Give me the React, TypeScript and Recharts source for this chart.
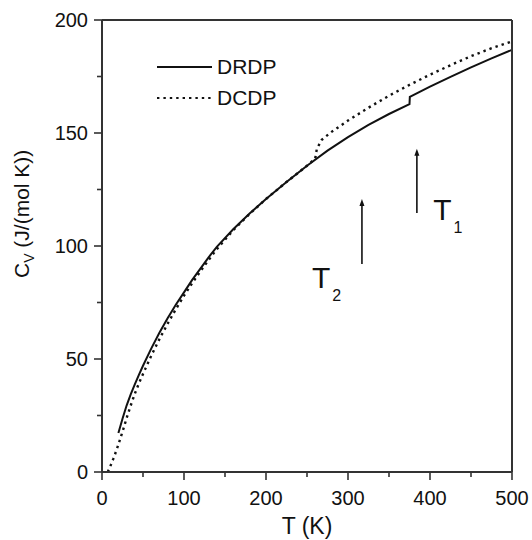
import React from 'react';
import { Legend, Line, LineChart, ReferenceDot, ReferenceLine, XAxis, YAxis } from 'recharts';

const SERIES_NAMES = ['DRDP', 'DCDP'];

// DRDP (solid) – heat capacity vs temperature
const T_DRDP = [20, 25, 30, 35, 40, 45, 50, 60, 70, 80, 90, 100, 110, 120, 130, 140, 160, 180, 200, 225, 250, 275, 300, 325, 350, 375, 375.4, 400, 425, 450, 475, 500];
const CV_DRDP = [17.3, 23.6, 29.4, 34.3, 38.8, 43, 47, 54.6, 61.6, 68, 74, 79.5, 85, 90, 95, 99.6, 107.4, 114.4, 120.8, 128.3, 135.5, 142.2, 148.2, 153.6, 158.4, 162.8, 166, 170.5, 174.8, 179, 183, 186.8];

// DCDP (dotted)
const T_DCDP = [7, 10, 14, 18, 22, 26, 30, 35, 40, 45, 50, 60, 70, 80, 90, 100, 110, 120, 130, 140, 160, 180, 200, 225, 250, 260, 262, 268, 280, 300, 325, 350, 375, 400, 425, 450, 475, 500];
const CV_DCDP = [0, 2.4, 6, 10, 14.4, 19, 23.8, 29.4, 34.6, 39.2, 43.4, 51.4, 58.8, 65.6, 72, 78, 83.6, 88.8, 93.8, 98.6, 107, 114.2, 120.8, 128.3, 135.5, 138.7, 143, 147, 150.5, 155.5, 161.2, 166.5, 171.3, 175.8, 180, 184, 187.5, 190.5];

const X_TICKS = [0, 50, 100, 150, 200, 250, 300, 350, 400, 450, 500];
const Y_TICKS = [0, 25, 50, 75, 100, 125, 150, 175, 200];

// transition arrows: [T, Cv bottom, Cv top] and their labels
const ARROW_T = [384, 317];
const ARROW_FROM = [114.6, 92];
const ARROW_TO = [143, 120.8];
const LABEL_T = [404, 256];
const LABEL_CV = [111.5, 81.4];
const LABEL_SUB = ['1', '2'];

const drdp = T_DRDP.map((t, i) => ({ t, cv: CV_DRDP[i] }));
const dcdp = T_DCDP.map((t, i) => ({ t, cv: CV_DCDP[i] }));

const FONT = '"Liberation Sans", Arial, Helvetica, sans-serif';
const INK = '#111';
const AXIS = '#333';

const BottomTick = ({ x, y, payload }: any) => {
  const major = payload.value % 100 === 0;
  return (
    <g>
      <line x1={x} y1={y} x2={x} y2={y + (major ? 8 : 5)} stroke={AXIS} strokeWidth={1.6} />
      {major && (
        <text x={x} y={y + 33} textAnchor="middle" fontSize={20} fill={INK} fontFamily={FONT}>
          {payload.value}
        </text>
      )}
    </g>
  );
};

const LeftTick = ({ x, y, payload }: any) => {
  const major = payload.value % 50 === 0;
  return (
    <g>
      <line x1={x} y1={y} x2={x - (major ? 8 : 5)} y2={y} stroke={AXIS} strokeWidth={1.6} />
      {major && (
        <text x={x - 14} y={y + 7} textAnchor="end" fontSize={20} fill={INK} fontFamily={FONT}>
          {payload.value}
        </text>
      )}
    </g>
  );
};

const TopTick = ({ x, y, payload }: any) => {
  const major = payload.value % 100 === 0;
  return <line x1={x} y1={y} x2={x} y2={y + (major ? 8 : 5)} stroke={AXIS} strokeWidth={1.6} />;
};

const RightTick = ({ x, y, payload }: any) => {
  const major = payload.value % 50 === 0;
  return <line x1={x} y1={y} x2={x - (major ? 8 : 6)} y2={y} stroke={AXIS} strokeWidth={1.6} />;
};

const Arrow = (props: any) => {
  const { x1, y1, x2, y2 } = props;
  return (
    <g>
      <line x1={x1} y1={y1} x2={x2} y2={y2 + 6} stroke={INK} strokeWidth={1.6} />
      <polygon points={`${x2 - 2.5},${y2 + 7} ${x2 + 2.5},${y2 + 7} ${x2},${y2}`} fill={INK} />
    </g>
  );
};

const LegendBox = ({ payload }: any) => {
  const items = [...(payload || [])].sort(
    (a: any, b: any) => SERIES_NAMES.indexOf(a.value) - SERIES_NAMES.indexOf(b.value)
  );
  return (
    <div style={{ fontFamily: FONT, fontSize: 21, color: INK }}>
      {items.map((e: any) => (
        <div key={e.value} style={{ display: 'flex', alignItems: 'center', height: 31 }}>
          <svg width={60} height={10}>
            <line
              x1={0}
              y1={5}
              x2={55}
              y2={5}
              stroke={INK}
              strokeWidth={2}
              strokeDasharray={e.payload?.strokeDasharray}
            />
          </svg>
          <span>{e.value}</span>
        </div>
      ))}
    </div>
  );
};

export default function App() {
  return (
    <div style={{ position: 'absolute', left: 0, top: 0, background: '#fff' }}>
      <LineChart width={532} height={540} margin={{ top: 0, right: 0, bottom: 0, left: 0 }}>
        <XAxis
          xAxisId="bottom"
          type="number"
          dataKey="t"
          domain={[0, 500]}
          ticks={X_TICKS}
          interval={0}
          height={68}
          tickSize={0}
          tickMargin={0}
          tick={<BottomTick />}
          axisLine={{ stroke: AXIS, strokeWidth: 2 }}
          label={{
            content: ({ viewBox }: any) => (
              <text
                x={viewBox.x + viewBox.width / 2}
                y={viewBox.y + 62}
                textAnchor="middle"
                fontSize={23}
                fill={INK}
                fontFamily={FONT}
              >
                T (K)
              </text>
            ),
          }}
        />
        <XAxis
          xAxisId="top"
          orientation="top"
          type="number"
          domain={[0, 500]}
          ticks={X_TICKS}
          interval={0}
          height={20}
          tickSize={0}
          tickMargin={0}
          tick={<TopTick />}
          axisLine={{ stroke: AXIS, strokeWidth: 2 }}
        />
        <YAxis
          yAxisId="left"
          type="number"
          domain={[0, 200]}
          ticks={Y_TICKS}
          interval={0}
          width={102}
          tickSize={0}
          tickMargin={0}
          tick={<LeftTick />}
          axisLine={{ stroke: AXIS, strokeWidth: 2 }}
          label={{
            content: ({ viewBox }: any) => {
              const cx = viewBox.x + 29;
              const cy = viewBox.y + 258;
              return (
                <text
                  x={cx}
                  y={cy}
                  transform={`rotate(-90 ${cx} ${cy})`}
                  textAnchor="start"
                  fontSize={21}
                  fill={INK}
                  fontFamily={FONT}
                >
                  C
                  <tspan fontSize={14} dy={5}>V</tspan>
                  <tspan dy={-5}> (J/(mol K))</tspan>
                </text>
              );
            },
          }}
        />
        <YAxis
          yAxisId="right"
          orientation="right"
          type="number"
          domain={[0, 200]}
          ticks={Y_TICKS}
          interval={0}
          width={20}
          tickSize={0}
          tickMargin={0}
          tick={<RightTick />}
          axisLine={{ stroke: AXIS, strokeWidth: 2 }}
        />
        <Legend
          layout="horizontal"
          verticalAlign="middle"
          align="center"
          wrapperStyle={{ top: 51, left: 157, width: 200, height: 62 }}
          content={<LegendBox />}
        />
        <Line
          xAxisId="bottom"
          yAxisId="left"
          name="DRDP"
          data={drdp}
          dataKey="cv"
          type="linear"
          stroke={INK}
          strokeWidth={2}
          dot={false}
          isAnimationActive={false}
        />
        <Line
          xAxisId="bottom"
          yAxisId="left"
          name="DCDP"
          data={dcdp}
          dataKey="cv"
          type="linear"
          stroke={INK}
          strokeWidth={2.4}
          strokeDasharray="2.4 4"
          dot={false}
          isAnimationActive={false}
        />
        {ARROW_T.map((t, i) => (
          <ReferenceLine
            key={`arrow-${i}`}
            xAxisId="bottom"
            yAxisId="left"
            segment={[
              { x: t, y: ARROW_FROM[i] },
              { x: t, y: ARROW_TO[i] },
            ]}
            shape={Arrow}
          />
        ))}
        {LABEL_T.map((t, i) => (
          <ReferenceDot
            key={`label-${i}`}
            xAxisId="bottom"
            yAxisId="left"
            x={t}
            y={LABEL_CV[i]}
            r={0}
            shape={(p: any) => (
              <text x={p.cx} y={p.cy} fontSize={30} fill={INK} fontFamily={FONT}>
                T
                <tspan fontSize={16} dx={2} dy={13}>{LABEL_SUB[i]}</tspan>
              </text>
            )}
          />
        ))}
      </LineChart>
    </div>
  );
}
